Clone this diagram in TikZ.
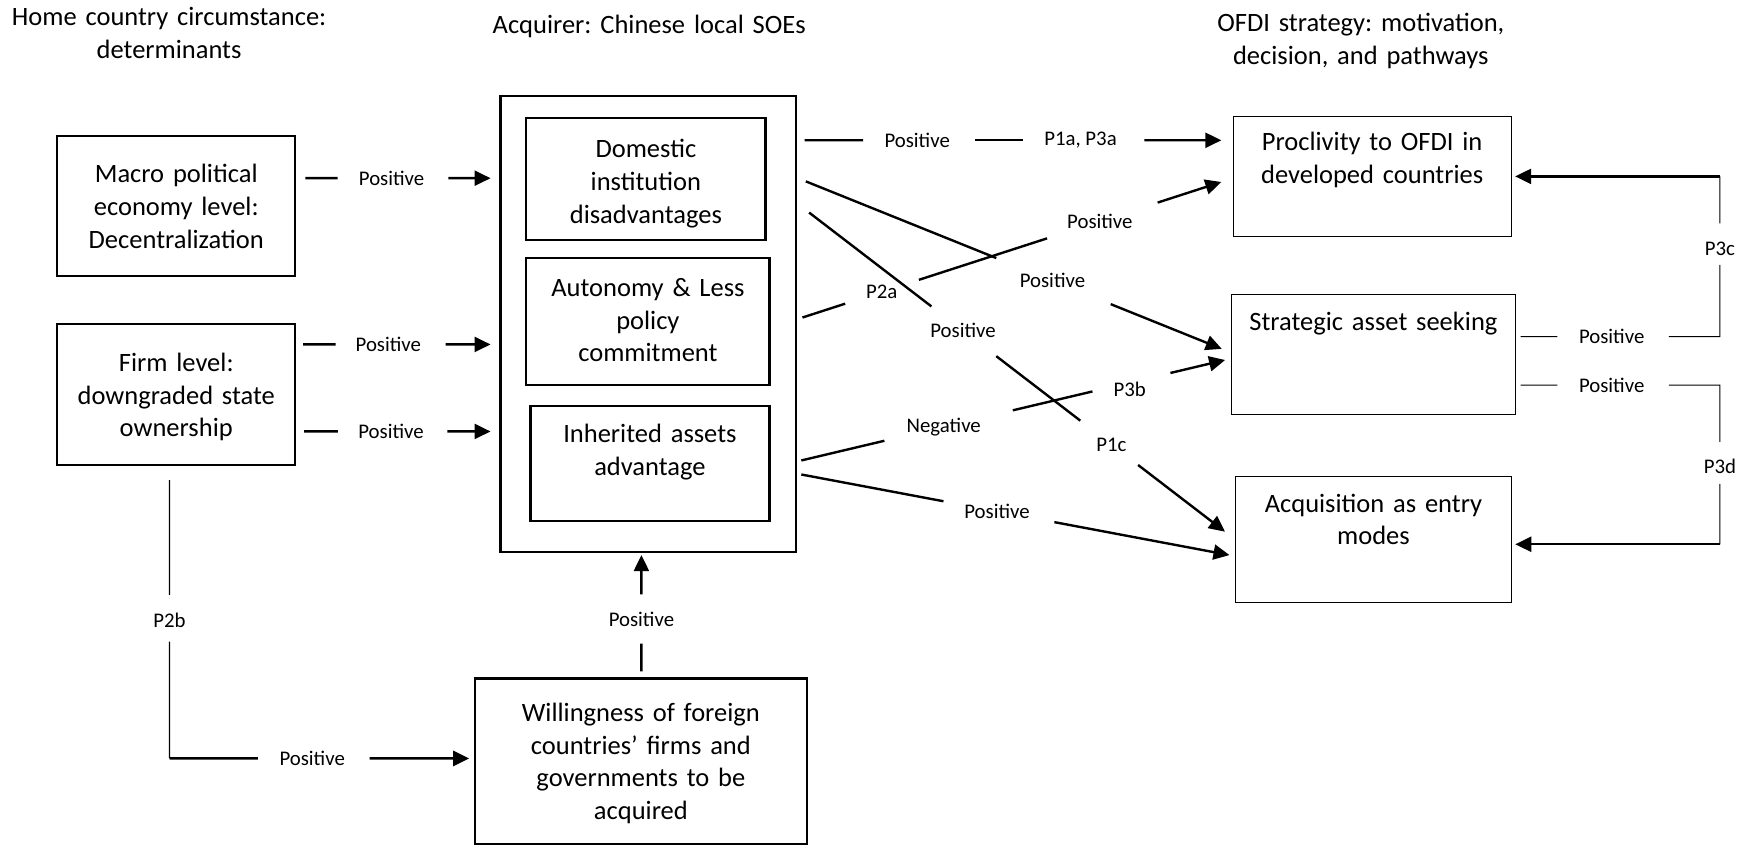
\documentclass[tikz,border=0pt]{standalone}
\usepackage{xcolor}
\usepackage{fontspec}
\setmainfont{Carlito}
\usepackage{tikz}
\usetikzlibrary{positioning, arrows.meta, calc}
\frenchspacing

\begin{document}
\begin{tikzpicture}[x=0.5577pt, y=-0.5577pt,
        box/.style={draw, line width=1.1pt, inner sep=0pt, align=center, font=\fontsize{13.25pt}{16.3pt}\selectfont},
        rbox/.style={box, line width=0.55pt},
        head/.style={inner sep=0pt, align=center, anchor=base, text width=200pt, font=\fontsize{13.25pt}{16.3pt}\selectfont},
        lbl/.style={inner sep=0pt, font=\fontsize{10.4pt}{12pt}\selectfont},
        link/.style={line width=1.2pt},
        fine/.style={line width=0.55pt},
        tip/.style={-{Triangle[length=8pt, width=7.5pt]}}]
        \useasboundingbox (0,0) rectangle (1568,758);

        % Headings
        \node[head] (h-home) at (151.6,22.8) {Home country circumstance:\\determinants};
        \node[head] (h-acq) at (582,29.8) {Acquirer: Chinese local SOEs};
        \node[head] (h-ofdi) at (1220,28.4) {OFDI strategy: motivation,\\decision, and pathways};

        % Home country determinants
        \node[box, text width=119pt, text height=23.4pt, text depth=46.6pt] (macro) at (158,184.75) {Macro political\\economy level:\\Decentralization};
        \node[box, text width=119pt, text height=23.6pt, text depth=46.8pt] (firm) at (158,353.8) {Firm level:\\downgraded state\\ownership};

        % Acquirer
        \node[box, minimum width=147.6pt, minimum height=228pt] (outer) at (581.1,290.25) {};
        \node[box, text width=119.5pt, text height=20pt, text depth=41.2pt] (dom) at (579.05,160.6) {Domestic\\institution\\disadvantages};
        \node[box, text width=121.5pt, text height=19.2pt, text depth=44pt] (aut) at (580.85,288.15) {Autonomy \& Less\\policy\\commitment};
        \node[box, text width=119.5pt, text height=18.4pt, text depth=38.9pt] (inh) at (582.65,415.4) {Inherited assets\\advantage};
        \node[box, text width=166.1pt, text height=21.6pt, text depth=61.2pt] (will) at (574.55,682.45) {Willingness of foreign\\countries’ firms and\\governments to be\\acquired};

        % OFDI strategy
        \node[rbox, text width=139.1pt, text height=17.2pt, text depth=42.9pt] (procl) at (1230.15,158.15) {Proclivity to OFDI in\\developed countries};
        \node[rbox, text width=142.2pt, text height=17.9pt, text depth=42.3pt] (strat) at (1231.3,317.75) {Strategic asset seeking};
        \node[rbox, text width=137.9pt, text height=17.9pt, text depth=45.2pt] (acq) at (1231.35,483.65) {Acquisition as entry\\modes};

        % Macro -> acquirer
        \coordinate (c1s) at ($(macro.east)+(8,-25)$);
        \coordinate (c1e) at ($(outer.west |- c1s)+(-8,0)$);
        \draw[link] (c1s) -- ($(c1s)!.175!(c1e)$);
        \node[lbl] (c1l) at ($(c1s)!.466!(c1e)$) {Positive};
        \draw[link, tip] ($(c1s)!.772!(c1e)$) -- (c1e);

        % Firm level -> acquirer
        \coordinate (c2s) at ($(firm.east)+(6,-45)$);
        \coordinate (c2e) at ($(outer.west |- c2s)+(-8,0)$);
        \draw[link] (c2s) -- ($(c2s)!.174!(c2e)$);
        \node[lbl] (c2l) at ($(c2s)!.455!(c2e)$) {Positive};
        \draw[link, tip] ($(c2s)!.760!(c2e)$) -- (c2e);

        \coordinate (c3s) at ($(firm.east)+(7,33)$);
        \coordinate (c3e) at ($(outer.west |- c3s)+(-8,0)$);
        \draw[link] (c3s) -- ($(c3s)!.181!(c3e)$);
        \node[lbl] (c3l) at ($(c3s)!.466!(c3e)$) {Positive};
        \draw[link, tip] ($(c3s)!.768!(c3e)$) -- (c3e);

        % Acquirer -> proclivity
        \coordinate (c4s) at ($(outer.east |- procl.north)+(7,22)$);
        \coordinate (c4e) at ($(procl.west |- c4s)+(-10,0)$);
        \draw[link] (c4s) -- ($(c4s)!.140!(c4e)$);
        \node[lbl] (c4l) at ($(c4s)!.270!(c4e)$) {Positive};
        \draw[link] ($(c4s)!.409!(c4e)$) -- ($(c4s)!.523!(c4e)$);
        \node[lbl] (c4m) at ($(c4s)!.662!(c4e)$) {P1a, P3a};
        \draw[link, tip] ($(c4s)!.815!(c4e)$) -- (c4e);

        % Domestic institution disadvantages -> strategic asset seeking
        \coordinate (c5s) at ($(outer.east |- dom.east)+(8,2)$);
        \coordinate (c5e) at ($(strat.west)+(-8,-5)$);
        \draw[link] (c5s) -- ($(c5s)!.458!(c5e)$);
        \node[lbl] (c5l) at ($(c5s)!.593!(c5e)$) {Positive};
        \draw[link, tip] ($(c5s)!.733!(c5e)$) -- (c5e);

        % Domestic institution disadvantages -> acquisition
        \coordinate (c6s) at ($(outer.east |- dom.east)+(11,30)$);
        \coordinate (c6e) at ($(acq.west)+(-9,-7)$);
        \draw[link] (c6s) -- ($(c6s)!.294!(c6e)$);
        \node[lbl] (c6l) at ($(c6s)!.370!(c6e)$) {Positive};
        \draw[link] ($(c6s)!.450!(c6e)$) -- ($(c6s)!.652!(c6e)$);
        \node[lbl] (c6m) at ($(c6s)!.727!(c6e)$) {P1c};
        \draw[link, tip] ($(c6s)!.791!(c6e)$) -- (c6e);

        % Autonomy -> proclivity
        \coordinate (c7s) at ($(outer.east |- aut.east)+(5,-3.5)$);
        \coordinate (c7e) at ($(procl.west)+(-10,5)$);
        \draw[link] (c7s) -- ($(c7s)!.102!(c7e)$);
        \node[lbl] (c7l) at ($(c7s)!.189!(c7e)$) {P2a};
        \draw[link] ($(c7s)!.278!(c7e)$) -- ($(c7s)!.584!(c7e)$);
        \node[lbl] (c7m) at ($(c7s)!.710!(c7e)$) {Positive};
        \draw[link, tip] ($(c7s)!.848!(c7e)$) -- (c7e);

        % Inherited assets -> strategic asset seeking
        \coordinate (c8s) at ($(outer.east |- inh.east)+(4,-2.6)$);
        \coordinate (c8e) at ($(strat.west)+(-5,5)$);
        \draw[link] (c8s) -- ($(c8s)!.196!(c8e)$);
        \node[lbl] (c8l) at ($(c8s)!.336!(c8e)$) {Negative};
        \draw[link] ($(c8s)!.499!(c8e)$) -- ($(c8s)!.687!(c8e)$);
        \node[lbl] (c8m) at ($(c8s)!.775!(c8e)+(0,6)$) {P3b};
        \draw[link, tip] ($(c8s)!.871!(c8e)$) -- (c8e);

        % Inherited assets -> acquisition
        \coordinate (c9s) at ($(outer.east |- inh.east)+(4,10)$);
        \coordinate (c9e) at ($(acq.west)+(-5,14)$);
        \draw[link] (c9s) -- ($(c9s)!.332!(c9e)$);
        \node[lbl] (c9l) at ($(c9s)!.457!(c9e)$) {Positive};
        \draw[link, tip] ($(c9s)!.591!(c9e)$) -- (c9e);

        % Strategic asset seeking -> proclivity (P3c)
        \coordinate (c10s) at ($(strat.east)+(4,-16)$);
        \coordinate (c10c) at ($(c10s)+(178.6,0)$);
        \coordinate (c10e) at ($(procl.east)+(3,0)$);
        \coordinate (c10t) at (c10c |- c10e);
        \draw[fine] (c10s) -- ($(c10s)!.184!(c10c)$);
        \node[lbl] (c10l) at ($(c10s)!.457!(c10c)$) {Positive};
        \draw[fine] ($(c10s)!.744!(c10c)$) -- (c10c) -- ($(c10c)!.447!(c10t)$);
        \node[lbl] (c10m) at ($(c10c)!.551!(c10t)$) {P3c};
        \draw[fine] ($(c10c)!.707!(c10t)$) -- (c10t);
        \draw[link, tip] (c10t) -- (c10e);

        % Strategic asset seeking -> acquisition (P3d)
        \coordinate (c11s) at ($(strat.east)+(4,27.5)$);
        \coordinate (c11c) at ($(c11s)+(178.6,0)$);
        \coordinate (c11e) at ($(acq.east)+(3,4.3)$);
        \coordinate (c11t) at (c11c |- c11e);
        \draw[fine] (c11s) -- ($(c11s)!.184!(c11c)$);
        \node[lbl] (c11l) at ($(c11s)!.457!(c11c)$) {Positive};
        \draw[fine] ($(c11s)!.744!(c11c)$) -- (c11c) -- ($(c11c)!.356!(c11t)$);
        \node[lbl] (c11m) at ($(c11c)!.513!(c11t)$) {P3d};
        \draw[fine] ($(c11c)!.621!(c11t)$) -- (c11t);
        \draw[link, tip] (c11t) -- (c11e);

        % Firm level -> willingness (P2b)
        \coordinate (c12s) at ($(firm.south)+(-6,12.6)$);
        \coordinate (c12e) at ($(will.west)+(-4,-2.5)$);
        \coordinate (c12c) at (c12s |- c12e);
        \draw[fine] (c12s) -- ($(c12s)!.412!(c12c)$);
        \node[lbl] (c12l) at ($(c12s)!.502!(c12c)$) {P2b};
        \draw[fine] ($(c12s)!.580!(c12c)$) -- (c12c);
        \draw[link] (c12c) -- ($(c12c)!.295!(c12e)$);
        \node[lbl] (c12m) at ($(c12c)!.476!(c12e)$) {Positive};
        \draw[link, tip] ($(c12c)!.668!(c12e)$) -- (c12e);

        % Willingness -> acquirer
        \coordinate (c13s) at ($(will.north)+(0.5,-5.4)$);
        \coordinate (c13e) at ($(c13s |- outer.south)+(0,2)$);
        \draw[link] (c13s) -- ($(c13s)!.239!(c13e)$);
        \node[lbl] (c13l) at ($(c13s)!.451!(c13e)$) {Positive};
        \draw[link, tip] ($(c13s)!.662!(c13e)$) -- (c13e);

    \end{tikzpicture}
\end{document}
